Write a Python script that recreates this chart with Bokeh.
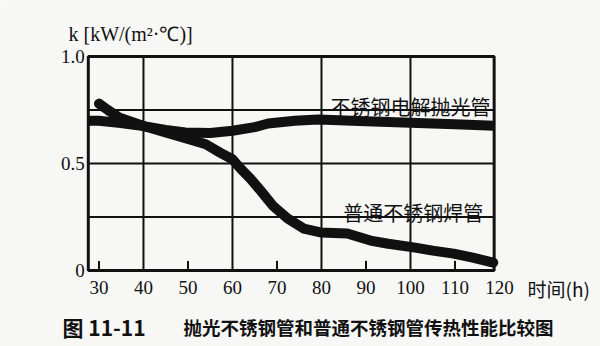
from bokeh.plotting import figure
from bokeh.models import Range1d
from bokeh.core.properties import value
from bokeh.embed import file_html
from bokeh.resources import INLINE

# ---- data ----
polished_x = [27.6, 30, 34.4, 40, 45, 49.4, 55, 60, 65, 68, 74, 79.3, 90, 100, 110, 118.8]
polished_k = [0.70, 0.70, 0.69, 0.675, 0.657, 0.645, 0.643, 0.653, 0.67, 0.687, 0.70, 0.706, 0.698, 0.69, 0.683, 0.677]

welded_x = [30, 32, 34.5, 40, 45, 50, 54, 57.3, 60, 61.8, 64, 66.3, 69.2, 72.4, 76, 79.8, 85.8, 91, 95, 100.7, 105, 109.7, 114, 118.6]
welded_k = [0.78, 0.75, 0.715, 0.675, 0.645, 0.615, 0.59, 0.55, 0.52, 0.477, 0.43, 0.374, 0.30, 0.243, 0.196, 0.178, 0.173, 0.14, 0.125, 0.108, 0.093, 0.079, 0.06, 0.037]

x_tick_values = [30, 40, 50, 60, 70, 80, 90, 100, 110, 120]
x_tick_labels = ["30", "40", "50", "60", "70", "80", "90", "100", "110", "120"]
x_grid_values = [40, 60, 80, 100]
x_minor_marks = [30, 50, 70, 90, 110]
y_tick_values = [0, 0.5, 1.0]
y_tick_labels = ["0", "0.5", "1.0"]
y_grid_values = [0.25, 0.5, 0.75]

y_title = "k  [kW/(m²·℃)]"
x_title = "时间(h)"
polished_name = "不锈钢电解抛光管"
welded_name = "普通不锈钢焊管"
caption_num = "图 11-11"
caption_text = "抛光不锈钢管和普通不锈钢管传热性能比较图"

# plot box in data units
X0, X1 = 27.6, 118.8
Y0, Y1 = 0.0, 1.0

BG = "#f7f7f6"
INK = "#111111"
SERIF = "Liberation Serif"
CJK = "Noto Sans CJK SC"

# the frame fills the whole canvas; the chart box is drawn inside it
p = figure(width=600, height=346, output_backend="svg", toolbar_location=None,
           x_range=Range1d(7.87, 142.7), y_range=Range1d(-0.355, 1.2617),
           min_border=0)
p.axis.visible = False
p.grid.visible = False
p.outline_line_color = None
p.background_fill_color = BG
p.border_fill_color = BG

# grid lines
p.segment(x0=x_grid_values, y0=[Y0] * len(x_grid_values),
          x1=x_grid_values, y1=[Y1] * len(x_grid_values),
          line_color=INK, line_width=2)
p.segment(x0=[X0] * len(y_grid_values), y0=y_grid_values,
          x1=[X1] * len(y_grid_values), y1=y_grid_values,
          line_color=INK, line_width=2)

# inward tick marks on the bottom edge
p.segment(x0=x_minor_marks, y0=[Y0] * len(x_minor_marks),
          x1=x_minor_marks, y1=[0.045] * len(x_minor_marks),
          line_color=INK, line_width=2)

# chart box
p.quad(left=[X0], right=[X1], bottom=[Y0], top=[Y1],
       fill_color=None, line_color=INK, line_width=3)

# curves
p.line(polished_x, polished_k, line_color=INK, line_width=10, line_join="round", line_cap="butt")
p.line(welded_x, welded_k, line_color=INK, line_width=10, line_join="round", line_cap="round")

# tick labels
p.text(x=x_tick_values, y=[-0.079] * len(x_tick_values), text=x_tick_labels,
       text_font=value(SERIF), text_font_size="19px", text_color=INK,
       text_align="center", text_baseline="middle")
p.text(x=[26.8] * len(y_tick_values), y=y_tick_values, text=y_tick_labels,
       text_font=value(SERIF), text_font_size="19px", text_color=INK,
       text_align="right", text_baseline="middle")

def lab(x, y, t, font, size, style="normal", align="left"):
    p.text(x=[x], y=[y], text=[t], text_font=value(font), text_font_size=size,
           text_font_style=style, text_color=INK, text_baseline="middle",
           text_align=align)

lab(82.0, 0.766, polished_name, CJK, "20px")
lab(84.9, 0.271, welded_name, CJK, "20px")
lab(23.15, 1.103, y_title, SERIF, "20px")
lab(126.3, -0.082, x_title, CJK, "19px")
lab(21.8, -0.262, caption_num, CJK, "21px", "bold")
lab(49.0, -0.262, caption_text, CJK, "18.5px", "bold")

open("out.html", "w").write(file_html(p, INLINE))
